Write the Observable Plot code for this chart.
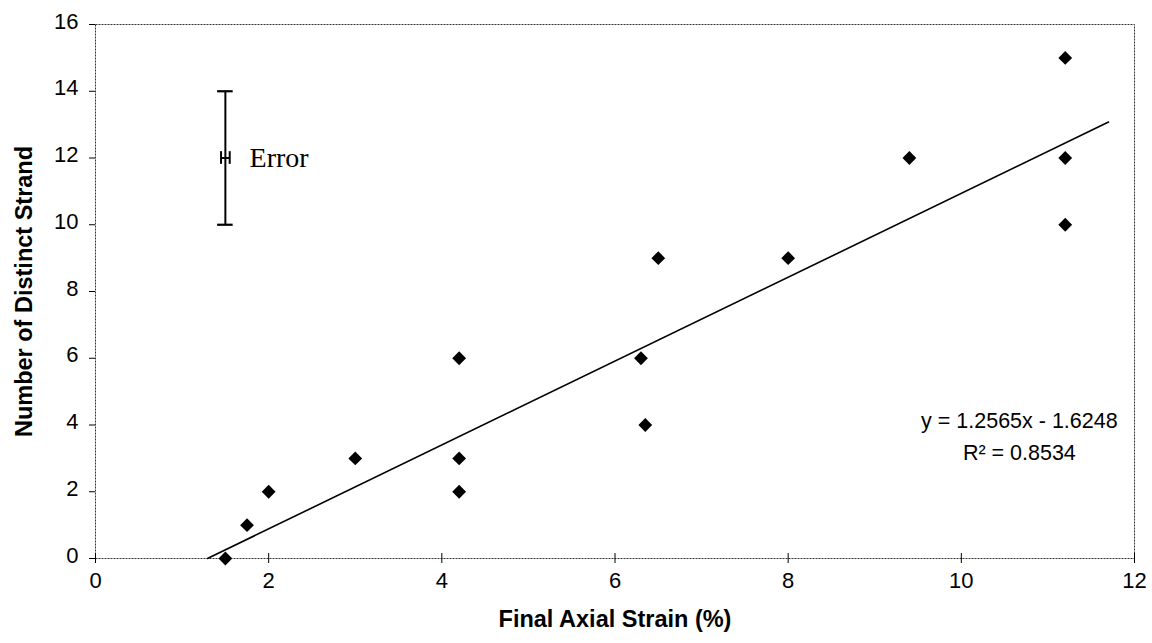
<!DOCTYPE html>
<html>
<head>
<meta charset="utf-8">
<script src="https://cdn.jsdelivr.net/npm/d3@7"></script>
<script src="https://cdn.jsdelivr.net/npm/@observablehq/plot@0.6"></script>
<style>
  html, body { margin: 0; padding: 0; background: #fff; }
  #chart svg { display: block; }
  #chart [aria-label="y-axis label"] text, #chart [aria-label="x-axis label"] text { font-weight: bold; font-size: 23.5px; }
</style>
</head>
<body>
<div id="chart"></div>
<script>
// Data
const strain = [1.5, 1.75, 2, 3, 4.2, 4.2, 4.2, 6.3, 6.35, 6.5, 8, 9.4, 11.2, 11.2, 11.2];
const strands = [0, 1, 2, 3, 6, 3, 2, 6, 4, 9, 9, 12, 15, 12, 10];
const slope = 1.2565;
const intercept = -1.6248;
const r2 = 0.8534;
const trendEnd = 11.7;
const xTicks = [0, 2, 4, 6, 8, 10, 12];
const yTicks = [0, 2, 4, 6, 8, 10, 12, 14, 16];
// Error legend
const errX = 1.5, errY = 12, errYLow = 10, errYHigh = 14, errXHalf = 0.05, errCapHalf = 0.09, errXCapHalf = 0.19;

const points = strain.map((x, i) => ({x, y: strands[i]}));
const trendStart = -intercept / slope;
const trend = [trendStart, trendEnd].map(x => ({x, y: slope * x + intercept}));

const chart = Plot.plot({
  width: 1152,
  height: 643,
  marginLeft: 95,
  marginRight: 18,
  marginTop: 24,
  marginBottom: 85,
  style: {fontFamily: "'Liberation Sans', Arial, sans-serif", fontSize: "22px", color: "#000"},
  x: {domain: [0, 12]},
  y: {domain: [0, 16]},
  marks: [
    Plot.frame({stroke: "#333", strokeDasharray: "2,1"}),
    Plot.axisX({ticks: xTicks, tickSize: 5, tickPadding: 9, label: "Final Axial Strain (%)", labelAnchor: "center", labelArrow: "none", labelOffset: 68}),
    Plot.axisX({ticks: xTicks, tickSize: -5, text: null, label: null}),
    Plot.axisY({ticks: yTicks, tickSize: 6, text: null, label: "Number of Distinct Strand", labelAnchor: "center", labelArrow: "none", labelOffset: 80}),
    Plot.axisY({ticks: yTicks, tickSize: 0, tickPadding: 17, dy: -3, label: null}),
    Plot.line(trend, {x: "x", y: "y", stroke: "#000", strokeWidth: 1.6}),
    Plot.dot(points, {x: "x", y: "y", symbol: "diamond2", r: 6.2, fill: "#000", stroke: null}),
    // error legend
    Plot.ruleX([errX], {y1: errYLow, y2: errYHigh, stroke: "#000", strokeWidth: 2}),
    Plot.ruleY([errYLow, errYHigh], {y: d => d, x1: errX - errCapHalf, x2: errX + errCapHalf, stroke: "#000", strokeWidth: 2.2}),
    Plot.ruleY([errY], {y: d => d, x1: errX - errXHalf, x2: errX + errXHalf, stroke: "#000", strokeWidth: 2}),
    Plot.ruleX([errX - errXHalf, errX + errXHalf], {x: d => d, y1: errY - errXCapHalf, y2: errY + errXCapHalf, stroke: "#000", strokeWidth: 2}),
    Plot.text(["Error"], {x: errX + 0.28, y: errY, textAnchor: "start", fontFamily: "'Liberation Serif', 'Times New Roman', serif", fontSize: 28}),
    Plot.text([`y = ${slope}x - ${Math.abs(intercept)}`, `R² = ${r2}`], {x: 10.67, y: [4.13, 3.17], fontSize: 21.5, textAnchor: "middle"})
  ]
});
document.getElementById("chart").appendChild(chart);
</script>
</body>
</html>
